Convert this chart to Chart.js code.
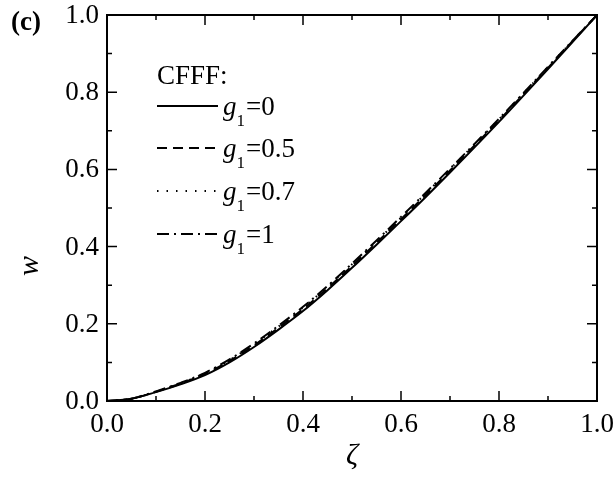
<!DOCTYPE html>
<html>
<head>
<meta charset="utf-8">
<script src="https://cdn.jsdelivr.net/npm/chart.js@4"></script>
<style>
  html, body { margin: 0; padding: 0; background: #fff; }
  #wrap { width: 615px; height: 479px; position: relative; }
</style>
</head>
<body>
<div id="wrap"><canvas id="chart"></canvas></div>
<script>
// data
const zeta = [0, 0.05, 0.1, 0.15, 0.2, 0.25, 0.3, 0.35, 0.4, 0.45, 0.5, 0.55, 0.6, 0.65, 0.7, 0.75, 0.8, 0.85, 0.9, 0.95, 1.0];
const wG0 = [0, 0.006, 0.023, 0.043, 0.067, 0.100, 0.140, 0.185, 0.233, 0.287, 0.345, 0.405, 0.466, 0.528, 0.592, 0.657, 0.723, 0.791, 0.860, 0.930, 1.0];
const wG05 = [0, 0.006, 0.024, 0.045, 0.070, 0.104, 0.144, 0.190, 0.238, 0.292, 0.350, 0.410, 0.471, 0.533, 0.597, 0.662, 0.727, 0.795, 0.863, 0.932, 1.0];
const wG07 = [0, 0.006, 0.024, 0.046, 0.072, 0.106, 0.147, 0.193, 0.242, 0.296, 0.354, 0.414, 0.475, 0.537, 0.601, 0.665, 0.730, 0.797, 0.865, 0.933, 1.0];
const wG1 = [0, 0.006, 0.025, 0.047, 0.073, 0.108, 0.149, 0.195, 0.244, 0.298, 0.356, 0.416, 0.477, 0.539, 0.602, 0.666, 0.731, 0.798, 0.866, 0.933, 1.0];

const seriesNames = ['0', '0.5', '0.7', '1'];
const seriesValues = [wG0, wG05, wG07, wG1];
const seriesDash = [[], [10, 6], [1.5, 8], [12, 5, 2, 5]];

const legendTitle = 'CFFF:';
const panelLabel = '(c)';
const xTitle = 'ζ';
const yTitle = 'w';
const majorTicks = [0, 0.2, 0.4, 0.6, 0.8, 1.0];
const minorTicks = [0.1, 0.3, 0.5, 0.7, 0.9];

const SERIF = '"Liberation Serif", "Times New Roman", serif';

const toPts = vals => zeta.map((z, i) => ({ x: z, y: vals[i] }));

// frame, inward ticks, tick labels, titles, legend
const decorPlugin = {
    id: 'decor',
    afterDraw(chart) {
        const ctx = chart.ctx;
        const a = chart.chartArea;
        const xs = chart.scales.x, ys = chart.scales.y;
        ctx.save();
        ctx.strokeStyle = '#000';
        ctx.lineWidth = 2;
        ctx.strokeRect(a.left, a.top, a.right - a.left, a.bottom - a.top);

        ctx.lineWidth = 1.5;
        const tick = (v, len) => {
            const px = xs.getPixelForValue(v), py = ys.getPixelForValue(v);
            ctx.beginPath();
            ctx.moveTo(px, a.bottom); ctx.lineTo(px, a.bottom - len);
            ctx.moveTo(px, a.top); ctx.lineTo(px, a.top + len);
            ctx.moveTo(a.left, py); ctx.lineTo(a.left + len, py);
            ctx.moveTo(a.right, py); ctx.lineTo(a.right - len, py);
            ctx.stroke();
        };
        majorTicks.forEach(v => tick(v, 10));
        minorTicks.forEach(v => tick(v, 5));

        ctx.fillStyle = '#000';
        ctx.font = '27px ' + SERIF;
        ctx.textAlign = 'center';
        ctx.textBaseline = 'alphabetic';
        majorTicks.forEach(v => ctx.fillText(v.toFixed(1), xs.getPixelForValue(v), a.bottom + 31));
        ctx.textAlign = 'right';
        ctx.textBaseline = 'middle';
        majorTicks.forEach(v => ctx.fillText(v.toFixed(1), a.left - 8, ys.getPixelForValue(v) + 1));

        ctx.textBaseline = 'alphabetic';
        ctx.font = 'bold 27px ' + SERIF;
        ctx.textAlign = 'left';
        ctx.fillText(panelLabel, 11, 30);

        ctx.font = 'italic 30px ' + SERIF;
        ctx.textAlign = 'center';
        ctx.fillText(xTitle, (a.left + a.right) / 2, 464);
        ctx.save();
        ctx.translate(38, 266);
        ctx.rotate(-Math.PI / 2);
        ctx.fillText(yTitle, 0, 0);
        ctx.restore();

        // legend
        ctx.textAlign = 'left';
        ctx.font = '27px ' + SERIF;
        ctx.fillText(legendTitle, 157, 84);
        const rowY = [106, 148, 191, 234];
        chart.data.datasets.forEach((ds, i) => {
            const y = rowY[i];
            ctx.beginPath();
            ctx.setLineDash(ds.borderDash);
            ctx.lineWidth = 2;
            ctx.moveTo(157, y); ctx.lineTo(218, y);
            ctx.stroke();
            ctx.setLineDash([]);
            let x = 223;
            ctx.font = 'italic 27px ' + SERIF;
            ctx.fillText('g', x, y + 9);
            x += ctx.measureText('g').width;
            ctx.font = '17px ' + SERIF;
            ctx.fillText('1', x, y + 20);
            x += ctx.measureText('1').width + 1;
            ctx.font = '27px ' + SERIF;
            ctx.fillText('=' + seriesNames[i], x, y + 9);
        });
        ctx.restore();
    }
};

new Chart(document.getElementById('chart'), {
    type: 'line',
    data: {
        datasets: seriesValues.map((vals, i) => ({
            label: 'g1=' + seriesNames[i],
            data: toPts(vals),
            borderColor: '#000',
            borderWidth: 2,
            borderDash: seriesDash[i],
            pointRadius: 0,
            fill: false,
            cubicInterpolationMode: 'monotone'
        }))
    },
    options: {
        responsive: true,
        maintainAspectRatio: false,
        animation: false,
        layout: { padding: { top: 15, right: 18, left: 0, bottom: 0 } },
        plugins: { legend: { display: false }, tooltip: { enabled: false } },
        scales: {
            x: {
                type: 'linear', min: 0, max: 1,
                grid: { display: false, drawTicks: false },
                border: { display: false },
                ticks: { display: false, stepSize: 0.2 },
                afterFit: s => { s.height = 78; }
            },
            y: {
                type: 'linear', min: 0, max: 1,
                grid: { display: false, drawTicks: false },
                border: { display: false },
                ticks: { display: false, stepSize: 0.2 },
                afterFit: s => { s.width = 107; }
            }
        }
    },
    plugins: [decorPlugin]
});
</script>
</body>
</html>
